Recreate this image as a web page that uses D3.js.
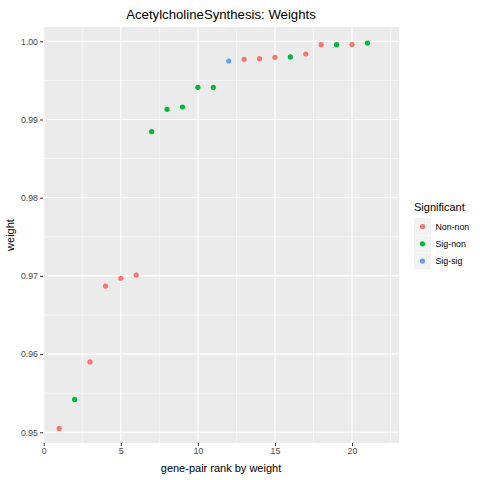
<!DOCTYPE html>
<html><head><meta charset="utf-8">
<script src="https://cdn.jsdelivr.net/npm/d3@7"></script>
<style>body{margin:0;background:#fff}text{font-family:"Liberation Sans",Arial,sans-serif}</style>
</head><body><div id="chart"></div>
<script>
const ranks = d3.range(1, 22);
const weights = [0.9505, 0.9542, 0.9590, 0.9687, 0.9697, 0.9701, 0.98844, 0.99130, 0.99160, 0.99412, 0.99412,
  0.99748, 0.99770, 0.99778, 0.99795, 0.99800, 0.99838, 0.99957, 0.99957, 0.99958, 0.99978];
const groups = ["Non-non","Sig-non","Non-non","Non-non","Non-non","Non-non","Sig-non","Sig-non","Sig-non","Sig-non","Sig-non",
  "Sig-sig","Non-non","Non-non","Non-non","Sig-non","Non-non","Non-non","Sig-non","Non-non","Sig-non"];
const categories = ["Non-non", "Sig-non", "Sig-sig"];
const colors = ["#F8766D", "#00BA38", "#619CFF"];
const xTicks = [0, 5, 10, 15, 20];
const yTicks = [0.95, 0.96, 0.97, 0.98, 0.99, 1.00];

const W = 480, H = 480, L = 43, R = 399, T = 27, B = 443;
const svg = d3.select("#chart").append("svg").attr("width", W).attr("height", H);
const x = d3.scaleLinear().domain([-0.05, 23.05]).range([L, R]);
const y = d3.scaleLinear().domain([0.94863, 1.00183]).range([B, T]);
const color = d3.scaleOrdinal().domain(categories).range(colors);

svg.append("rect").attr("x", L).attr("y", T).attr("width", R - L).attr("height", B - T).attr("fill", "#EBEBEB");
const minorX = d3.range(2.5, 23, 5), minorY = d3.range(0.955, 1.0, 0.01);
const g = svg.append("g");
g.selectAll(".mx").data(minorX).enter().append("line").attr("x1", x).attr("x2", x).attr("y1", T).attr("y2", B)
  .attr("stroke", "#fff").attr("stroke-width", 0.5);
g.selectAll(".my").data(minorY).enter().append("line").attr("y1", y).attr("y2", y).attr("x1", L).attr("x2", R)
  .attr("stroke", "#fff").attr("stroke-width", 0.5);
g.selectAll(".gx").data(xTicks).enter().append("line").attr("x1", x).attr("x2", x).attr("y1", T).attr("y2", B)
  .attr("stroke", "#fff").attr("stroke-width", 1.1);
g.selectAll(".gy").data(yTicks).enter().append("line").attr("y1", y).attr("y2", y).attr("x1", L).attr("x2", R)
  .attr("stroke", "#fff").attr("stroke-width", 1.1);

const xa = svg.append("g").attr("transform", `translate(0,${B})`)
  .call(d3.axisBottom(x).tickValues(xTicks).tickSize(3).tickPadding(2).tickFormat(d3.format("d")));
const ya = svg.append("g").attr("transform", `translate(${L},0)`)
  .call(d3.axisLeft(y).tickValues(yTicks).tickSize(3).tickPadding(2).tickFormat(d3.format(".2f")));
[xa, ya].forEach(a => {
  a.select(".domain").remove();
  a.selectAll("line").attr("stroke", "#333");
  a.selectAll("text").attr("fill", "#4D4D4D").style("font-size", "8.8px");
});

svg.append("g").selectAll("circle").data(ranks).enter().append("circle")
  .attr("cx", d => x(d)).attr("cy", (d, i) => y(weights[i])).attr("r", 2.6)
  .attr("fill", (d, i) => color(groups[i]));

svg.append("text").attr("x", (L + R) / 2).attr("y", 19).attr("text-anchor", "middle")
  .style("font-size", "13.2px").text("AcetylcholineSynthesis: Weights");
svg.append("text").attr("x", (L + R) / 2).attr("y", 472).attr("text-anchor", "middle")
  .style("font-size", "11px").text("gene-pair rank by weight");
svg.append("text").attr("transform", `translate(14,${(T + B) / 2}) rotate(-90)`).attr("text-anchor", "middle")
  .style("font-size", "11px").text("weight");

const leg = svg.append("g").attr("transform", "translate(414,0)");
leg.append("text").attr("x", 0).attr("y", 211).style("font-size", "11px").text("Significant");
const items = leg.selectAll(".it").data(categories).enter().append("g")
  .attr("transform", (d, i) => `translate(0,${218 + i * 17.3})`);
items.append("rect").attr("width", 17).attr("height", 17).attr("fill", "#F2F2F2");
items.append("circle").attr("cx", 8.5).attr("cy", 8.5).attr("r", 2.6).attr("fill", d => color(d));
items.append("text").attr("x", 21.5).attr("y", 11.5).style("font-size", "8.8px").text(d => d);
</script></body></html>
